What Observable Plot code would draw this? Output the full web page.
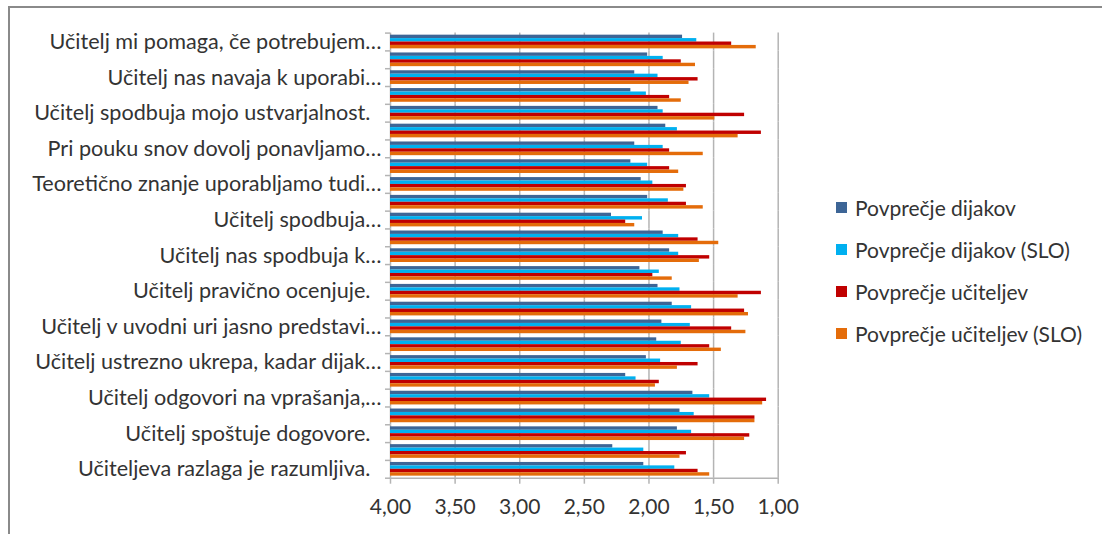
<!DOCTYPE html>
<html>
<head>
<meta charset="utf-8">
<script src="https://cdn.jsdelivr.net/npm/d3@7"></script>
<script src="https://cdn.jsdelivr.net/npm/@observablehq/plot@0.6"></script>
<style>
  html, body { margin: 0; padding: 0; background: #fff; }
  #wrap { position: relative; width: 1102px; height: 534px; overflow: hidden; font-family: Lato, "Open Sans", sans-serif; }
  #border { position: absolute; left: 8px; top: 6px; right: -4px; bottom: -4px; border-top: 2px solid #8a8a8a; border-left: 2px solid #8a8a8a; }
  #chart { position: absolute; left: 0; top: 0; }
  #legend { position: absolute; left: 836px; top: 186px; color: #333; font-size: 21px; }
  .item { height: 42.2px; display: flex; align-items: center; white-space: nowrap; }
  .sw { width: 11px; height: 11px; margin-right: 8px; flex: none; }
</style>
</head>
<body>
<div id="wrap">
  <div id="border"></div>
  <div id="chart"></div>
  <div id="legend"></div>
</div>
<script>
// categories top to bottom (only every other label is shown on the axis)
const categories = [
  "Učitelj mi pomaga, če potrebujem…", "",
  "Učitelj nas navaja k uporabi…", "",
  "Učitelj spodbuja mojo ustvarjalnost.\u00a0\u00a0", "",
  "Pri pouku snov dovolj ponavljamo…", "",
  "Teoretično znanje uporabljamo tudi…", "",
  "Učitelj spodbuja…", "",
  "Učitelj nas spodbuja k…", "",
  "Učitelj pravično ocenjuje.\u00a0\u00a0", "",
  "Učitelj v uvodni uri jasno predstavi…", "",
  "Učitelj ustrezno ukrepa, kadar dijak…", "",
  "Učitelj odgovori na vprašanja,…", "",
  "Učitelj spoštuje dogovore.\u00a0\u00a0", "",
  "Učiteljeva razlaga je razumljiva.\u00a0\u00a0"
];
const seriesNames = ["Povprečje dijakov", "Povprečje dijakov (SLO)", "Povprečje učiteljev", "Povprečje učiteljev (SLO)"];
const seriesColors = ["#3d6596", "#00b0f0", "#c00000", "#e46c0a"];

const dijakov      = [1.74, 2.01, 2.11, 2.14, 1.93, 1.87, 2.11, 2.14, 2.06, 2.01, 2.29, 1.89, 1.84, 2.07, 1.93, 1.82, 1.90, 1.94, 2.02, 2.18, 1.66, 1.76, 1.78, 2.28, 2.04];
const dijakovSLO   = [1.63, 1.89, 1.93, 2.02, 1.89, 1.78, 1.89, 2.01, 1.97, 1.85, 2.05, 1.77, 1.77, 1.92, 1.76, 1.67, 1.68, 1.75, 1.91, 2.10, 1.53, 1.65, 1.67, 2.04, 1.80];
const uciteljev    = [1.36, 1.75, 1.62, 1.84, 1.26, 1.13, 1.84, 1.84, 1.71, 1.71, 2.18, 1.62, 1.53, 1.97, 1.13, 1.26, 1.36, 1.53, 1.62, 1.92, 1.09, 1.18, 1.22, 1.71, 1.62];
const uciteljevSLO = [1.17, 1.64, 1.69, 1.75, 1.49, 1.31, 1.58, 1.77, 1.73, 1.58, 2.11, 1.46, 1.61, 1.82, 1.31, 1.23, 1.25, 1.44, 1.78, 1.95, 1.12, 1.18, 1.26, 1.76, 1.53];

const xTicks = [4.0, 3.5, 3.0, 2.5, 2.0, 1.5, 1.0];
const axisStart = 4;

const seriesValues = [dijakov, dijakovSLO, uciteljev, uciteljevSLO];
const data = [];
categories.forEach((c, i) => {
  seriesValues.forEach((vals, s) => {
    data.push({cat: i, series: seriesNames[s], value: vals[i]});
  });
});

const W = 800, H = 534;
const mTop = 32.6, mBottom = 56.3, mLeft = 390, mRight = 22.3;
const step = (H - mTop - mBottom) / categories.length;
const idx = categories.map((_, i) => i);
const fmt = d => d.toFixed(2).replace(".", ",");
const gridColor = "#b4b4b4";

const chart = Plot.plot({
  width: W,
  height: H,
  marginTop: mTop,
  marginBottom: mBottom,
  marginLeft: mLeft,
  marginRight: mRight,
  style: {fontFamily: "Lato, 'Open Sans', sans-serif", fontSize: "21px", color: "#333", background: "transparent"},
  x: {domain: [4, 1], axis: null},
  y: {domain: seriesNames, paddingInner: 0, paddingOuter: 0.6, round: false, axis: null},
  fy: {domain: idx, padding: 0, round: false, axis: null},
  color: {domain: seriesNames, range: seriesColors},
  marks: [
    Plot.ruleX(xTicks, {stroke: gridColor, strokeWidth: 1.5}),
    Plot.barX(data, {fy: "cat", y: "series", x1: () => axisStart, x2: "value", fill: "series"}),
    Plot.axisFy({anchor: "left", label: null, tickSize: 0, tickPadding: 9, tickFormat: i => categories[i], fontSize: 21.6, fill: "#333"}),
    Plot.axisFy({anchor: "left", label: null, tickSize: 5, tickFormat: () => "", dy: -step / 2, stroke: gridColor, strokeWidth: 1.5}),
    Plot.axisFy({anchor: "left", label: null, ticks: [idx[idx.length - 1]], tickSize: 5, tickFormat: () => "", dy: step / 2, stroke: gridColor, strokeWidth: 1.5}),
    Plot.frame({anchor: "bottom", facetAnchor: "bottom", stroke: gridColor, strokeWidth: 1.5}),
    Plot.axisX({label: null, ticks: xTicks, tickSize: 6, tickPadding: 15, tickFormat: fmt, stroke: gridColor, strokeWidth: 1.5, fontSize: 21, fill: "#333"})
  ]
});
document.getElementById("chart").appendChild(chart);

const legend = document.getElementById("legend");
seriesNames.forEach((name, i) => {
  const row = document.createElement("div");
  row.className = "item";
  const sw = document.createElement("span");
  sw.className = "sw";
  sw.style.background = seriesColors[i];
  const tx = document.createElement("span");
  tx.textContent = name;
  row.appendChild(sw);
  row.appendChild(tx);
  legend.appendChild(row);
});
</script>
</body>
</html>
